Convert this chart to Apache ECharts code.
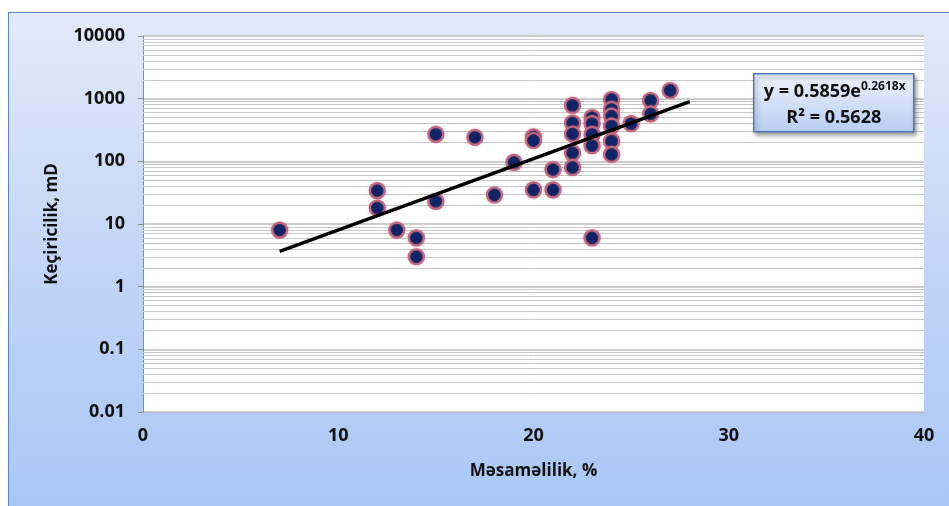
<!DOCTYPE html>
<html lang="az">
<head>
<meta charset="UTF-8">
<title>Keçiricilik - Məsaməlilik</title>
<script src="https://cdn.jsdelivr.net/npm/echarts@6/dist/echarts.min.js"></script>
<style>
  html, body { margin: 0; padding: 0; background: #fff; overflow: hidden; }
  #bg {
    position: absolute; left: 8px; top: 12px; width: 960px; height: 520px;
    border: 1.5px solid #5b86c2;
    background: linear-gradient(to bottom, #e2eaf8 0%, #c4d7f6 45%, #a7c5f4 100%);
  }
  #chart { position: absolute; left: 0; top: 0; width: 949px; height: 506px; }
</style>
</head>
<body>
<div id="bg"></div>
<div id="chart"></div>
<script>
  // porosity (%) and permeability (mD)
  var porosity = [7, 12, 12, 13, 14, 14, 15, 15, 17, 18, 19, 20, 20, 20, 21, 21,
    22, 22, 22, 22, 22, 23, 23, 23, 23, 23, 24, 24, 24, 24, 24, 24, 25, 26, 26, 27];
  var permeability = [8, 34, 18, 8, 6, 3, 270, 23, 242, 29, 96, 245, 215, 35, 74, 35,
    782, 409, 273, 136, 80, 500, 400, 270, 178, 6, 970, 675, 525, 365, 210, 129, 400, 935, 570, 1350];

  // exponential trend line end points (straight on log axis)
  var trendX = [7, 28];
  var trendY = [3.66, 900];

  var yMin = 0.01, yMax = 10000;
  var xTicks = [0, 10, 20, 30, 40];

  // minor log grid lines: 2..9 of each decade
  var minorSteps = [2, 3, 4, 5, 6, 7, 8, 9];
  var decades = [0.01, 0.1, 1, 10, 100, 1000];
  var minorLines = [];
  decades.forEach(function (d) {
    minorSteps.forEach(function (m) {
      minorLines.push({ yAxis: +(d * m).toPrecision(6) });
    });
  });

  var font = '"Open Sans", "Liberation Sans", sans-serif';
  var gray = '#8c8c8c';

  var chart = echarts.init(document.getElementById('chart'));
  chart.setOption({
    animation: false,
    grid: { left: 143, right: 25, top: 36, bottom: 94, show: true, backgroundColor: '#fff', borderWidth: 0 },
    xAxis: [{
      type: 'value', min: xTicks[0], max: xTicks[xTicks.length - 1], interval: 10,
      name: 'Məsaməlilik, %', nameLocation: 'middle', nameGap: 51,
      nameTextStyle: { fontFamily: font, fontWeight: 'bold', fontSize: 17, color: '#111' },
      axisLine: { show: false }, axisTick: { show: false }, splitLine: { show: false },
      axisLabel: { fontFamily: font, fontWeight: 'bold', fontSize: 18, color: '#111', margin: 15 }
    }, {
      // horizontal axis crossing at 1, as the picture has it
      type: 'value', min: xTicks[0], max: xTicks[xTicks.length - 1], interval: 10,
      position: 'bottom', offset: 125,
      axisLine: { show: true, lineStyle: { color: gray, width: 1 } },
      axisTick: { show: true, length: 6, lineStyle: { color: gray } },
      axisLabel: { show: false }, splitLine: { show: false }
    }],
    yAxis: {
      type: 'log', logBase: 10, min: yMin, max: yMax,
      name: 'Keçiricilik, mD', nameLocation: 'middle', nameGap: 82, nameRotate: 90,
      nameTextStyle: { fontFamily: font, fontWeight: 'bold', fontSize: 17, color: '#111' },
      axisLine: { show: true, lineStyle: { color: gray } },
      axisTick: { show: true, length: 5, lineStyle: { color: gray } },
      axisLabel: {
        fontFamily: font, fontWeight: 'bold', fontSize: 18, color: '#111', margin: 18,
        formatter: function (v) { return String(parseFloat((+v).toPrecision(6))); }
      },
      splitLine: { show: true, lineStyle: { color: '#bdbdbd', width: 1.5 } }
    },
    series: [{
      type: 'line', data: [], silent: true, z: 1,
      markLine: {
        silent: true, symbol: 'none', animation: false, z: 1,
        label: { show: false },
        lineStyle: { color: '#c9c9c9', width: 1, type: 'solid' },
        data: minorLines
      }
    }, {
      type: 'scatter', z: 3,
      data: porosity.map(function (x, i) { return [x, permeability[i]]; }),
      symbolSize: 15,
      itemStyle: {
        color: '#0f2466', borderColor: '#c4667c', borderWidth: 2.2, opacity: 1,
        shadowBlur: 2, shadowColor: 'rgba(196,102,124,0.6)'
      }
    }, {
      type: 'line', z: 4, symbol: 'none',
      data: trendX.map(function (x, i) { return [x, trendY[i]]; }),
      lineStyle: { color: '#000', width: 3.5 }
    }],
    graphic: [{
      type: 'group', left: 753, top: 73, z: 100,
      children: [{
        type: 'rect', z: 100, shape: { x: 0, y: 0, width: 160, height: 58 },
        style: {
          fill: new echarts.graphic.LinearGradient(0, 0, 0, 1, [
            { offset: 0, color: '#eef3fc' }, { offset: 1, color: '#b7cdf1' }
          ]),
          stroke: '#4f79b5', lineWidth: 1.5,
          shadowBlur: 4, shadowOffsetX: 2, shadowOffsetY: 3, shadowColor: 'rgba(0,0,0,0.35)'
        }
      }, {
        type: 'text', z: 101, x: 81, y: 18,
        style: {
          text: '{b|y = 0.5859e}{s|0.2618x}', align: 'center', verticalAlign: 'middle',
          rich: {
            b: { fontFamily: font, fontWeight: 'bold', fontSize: 18, lineHeight: 22, fill: '#111', verticalAlign: 'middle' },
            s: { fontFamily: font, fontWeight: 'bold', fontSize: 12, lineHeight: 22, fill: '#111', verticalAlign: 'top' }
          }
        }
      }, {
        type: 'text', z: 101, x: 80, y: 44,
        style: {
          text: 'R² = 0.5628', align: 'center', verticalAlign: 'middle',
          font: 'bold 18px ' + font, fill: '#111'
        }
      }]
    }]
  });
</script>
</body>
</html>
